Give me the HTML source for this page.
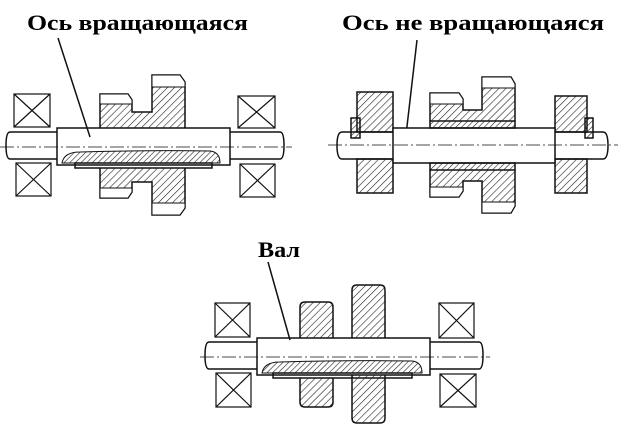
<!DOCTYPE html>
<html><head><meta charset="utf-8"><style>html,body{margin:0;padding:0;background:#fff}svg{display:block}</style></head>
<body>
<svg width="622" height="432" viewBox="0 0 622 432" xmlns="http://www.w3.org/2000/svg">
<defs>
<pattern id="h" width="5" height="5" patternUnits="userSpaceOnUse" patternTransform="rotate(45)"><line x1="0" y1="0" x2="0" y2="5" stroke="#222" stroke-width="1.2"/></pattern>
<pattern id="h2" width="4" height="4" patternUnits="userSpaceOnUse" patternTransform="rotate(45)"><line x1="0" y1="0" x2="0" y2="4" stroke="#222" stroke-width="1.2"/></pattern>
</defs>
<g font-family="Liberation Serif, serif" font-weight="bold" font-size="22" fill="#000">
<text x="27" y="30" textLength="221" lengthAdjust="spacingAndGlyphs">Ось вращающаяся</text>
<text x="342" y="30" textLength="262" lengthAdjust="spacingAndGlyphs">Ось не вращающаяся</text>
<text x="258" y="257" textLength="42" lengthAdjust="spacingAndGlyphs">Вал</text>
</g>
<g stroke="#111" stroke-width="1.5" fill="none">
<!-- FIG 1 -->
<line x1="58" y1="38" x2="90" y2="137"/>
<g stroke-width="1.2"><rect x="14" y="94" width="36" height="33"/><path d="M14 94L50 127M50 94L14 127"/>
<rect x="16" y="163" width="35" height="33"/><path d="M16 163L51 196M51 163L16 196"/>
<rect x="238" y="96" width="37" height="32"/><path d="M238 96L275 128M275 96L238 128"/>
<rect x="240" y="164" width="35" height="33"/><path d="M240 164L275 197M275 164L240 197"/></g>
<path d="M57 132H10Q6 132 6 145.5Q6 159 10 159H57"/>
<path d="M230 132H280Q284 132 284 145.5Q284 159 280 159H230"/>
<rect x="57" y="128" width="173" height="37"/>
<path d="M62 163Q64 152 80 152Q150 150 210 151Q220 152 220 163Z" fill="url(#h2)" stroke-width="1"/>
<rect x="75" y="163" width="137" height="5"/>
<path d="M100 128V94H128L132 100V112H152V75H180L185 82V128" fill="url(#h)"/>
<path d="M100 168V198H128L132 192V182H152V215H180L185 208V168" fill="url(#h)"/>
<path d="M100 104V94H128L132 100V104Z M152 87V75H180L185 82V87Z M100 188V198H128L132 192V188Z M152 203V215H180L185 208V203Z" fill="#fff" stroke-width="1"/>
<line x1="0" y1="147" x2="292" y2="147" stroke-width="0.8" stroke-dasharray="14 3 2 3"/>
<!-- FIG 2 -->
<line x1="417" y1="40" x2="406" y2="135"/>
<rect x="357" y="92" width="36" height="40" fill="url(#h)"/>
<rect x="357" y="159" width="36" height="34" fill="url(#h)"/>
<rect x="555" y="96" width="32" height="36" fill="url(#h)"/>
<rect x="555" y="159" width="32" height="34" fill="url(#h)"/>
<path d="M393 132H342Q337 132 337 145.5Q337 159 342 159H393"/>
<path d="M555 132H603Q608 132 608 145.5Q608 159 603 159H555"/>
<rect x="393" y="128" width="162" height="35" fill="#fff"/>
<rect x="351" y="118" width="9" height="20" fill="url(#h2)"/>
<rect x="585" y="118" width="8" height="20" fill="url(#h2)"/>
<rect x="430" y="121" width="85" height="7" fill="url(#h2)"/>
<rect x="430" y="163" width="85" height="7" fill="url(#h2)"/>
<path d="M430 121V93H459L463 99V110H482V77H511L515 84V121" fill="url(#h)"/>
<path d="M430 170V197H459L463 191V181H482V213H511L515 206V170" fill="url(#h)"/>
<path d="M430 104V93H459L463 99V104Z M482 88V77H511L515 84V88Z M430 187V197H459L463 191V187Z M482 202V213H511L515 206V202Z" fill="#fff" stroke-width="1"/>
<line x1="328" y1="145" x2="618" y2="145" stroke-width="0.8" stroke-dasharray="14 3 2 3"/>
<!-- FIG 3 -->
<line x1="268" y1="262" x2="290" y2="340"/>
<g stroke-width="1.2"><rect x="215" y="303" width="35" height="34"/><path d="M215 303L250 337M250 303L215 337"/>
<rect x="216" y="373" width="35" height="34"/><path d="M216 373L251 407M251 373L216 407"/>
<rect x="439" y="303" width="35" height="35"/><path d="M439 303L474 338M474 303L439 338"/>
<rect x="440" y="374" width="36" height="33"/><path d="M440 374L476 407M476 374L440 407"/></g>
<path d="M257 342H209Q205 342 205 355.5Q205 369 209 369H257"/>
<path d="M430 342H479Q483 342 483 355.5Q483 369 479 369H430"/>
<rect x="257" y="338" width="173" height="37"/>
<path d="M262 373Q264 362 280 362Q350 360 412 361Q422 362 422 373Z" fill="url(#h2)" stroke-width="1"/>
<rect x="273" y="373" width="139" height="5"/>
<path d="M300 338V307Q300 302 305 302H328Q333 302 333 307V338" fill="url(#h)"/>
<path d="M300 378V402Q300 407 305 407H328Q333 407 333 402V378" fill="url(#h)"/>
<path d="M352 338V290Q352 285 357 285H380Q385 285 385 290V338" fill="url(#h)"/>
<path d="M352 375V418Q352 423 357 423H380Q385 423 385 418V375" fill="url(#h)"/>
<line x1="200" y1="357" x2="490" y2="357" stroke-width="0.8" stroke-dasharray="14 3 2 3"/>
</g>
</svg>
</body></html>
